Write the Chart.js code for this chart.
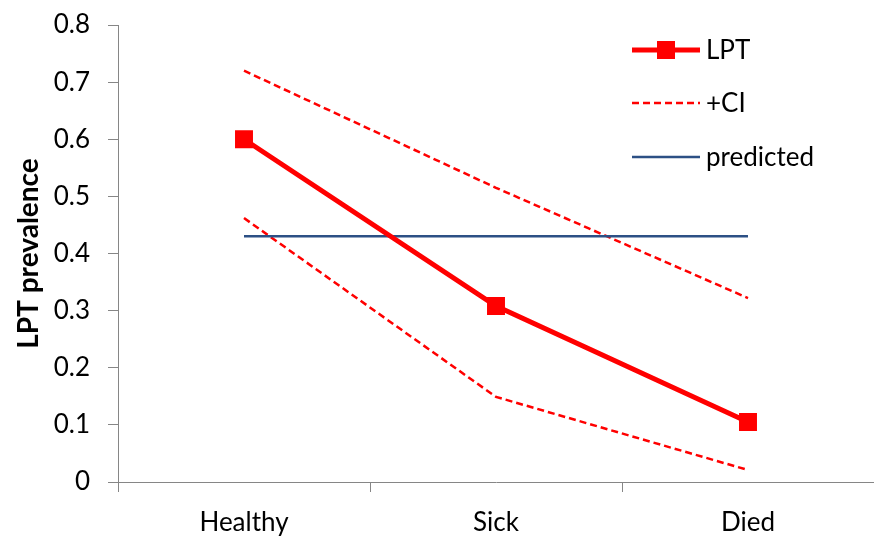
<!DOCTYPE html>
<html><head><meta charset="utf-8">
<script src="https://cdn.jsdelivr.net/npm/chart.js@4/dist/chart.umd.min.js"></script>
<style>html,body{margin:0;padding:0;background:#fff;overflow:hidden}canvas{display:block}</style>
</head><body><canvas id="c" width="874" height="539"></canvas>
<script>
const categories = ["Healthy", "Sick", "Died"];
const lptValues = [0.6, 0.308, 0.105];
const upperCI = [0.72, 0.515, 0.322];
const lowerCI = [0.462, 0.149, 0.021];
const predicted = [0.43, 0.43, 0.43];
const yTicks = [0, 0.1, 0.2, 0.3, 0.4, 0.5, 0.6, 0.7, 0.8];
const legendLabels = ["LPT", "+CI", "predicted"];

const FONT = "Lato, 'Liberation Sans', sans-serif";
const RED = "#FF0000";
const BLUE = "#2C5085";
const AXIS = "#868686";

const legendPlugin = {
  id: 'insideLegend',
  afterDraw(chart) {
    const ctx = chart.ctx;
    const rows = [
      {ds: 0, y: 50}, {ds: 1, y: 103}, {ds: 3, y: 157}
    ];
    ctx.save();
    rows.forEach((r, i) => {
      const d = chart.data.datasets[r.ds];
      ctx.strokeStyle = d.borderColor;
      ctx.lineWidth = d.borderWidth;
      ctx.setLineDash(d.borderDash || []);
      ctx.beginPath(); ctx.moveTo(632, r.y); ctx.lineTo(700, r.y); ctx.stroke();
      ctx.setLineDash([]);
      if (d.pointRadius > 0) {
        ctx.fillStyle = d.pointBackgroundColor;
        ctx.fillRect(666 - 9, r.y - 9, 18, 18);
      }
      ctx.fillStyle = "#000";
      ctx.font = "26px " + FONT;
      ctx.textBaseline = "middle";
      ctx.textAlign = "left";
      ctx.fillText(legendLabels[i], 706, r.y + 1);
    });
    ctx.restore();
  }
};

new Chart(document.getElementById('c'), {
  type: 'line',
  data: {
    labels: categories,
    datasets: [
      {label: legendLabels[0], data: lptValues, borderColor: RED, borderWidth: 5, pointStyle: 'rect', pointRadius: 12.7, pointBackgroundColor: RED, pointBorderWidth: 0, pointBorderColor: RED, order: 0},
      {label: legendLabels[1], data: upperCI, borderColor: RED, borderWidth: 2.5, borderDash: [7, 4], pointRadius: 0, order: 2},
      {label: "-CI", data: lowerCI, borderColor: RED, borderWidth: 2.5, borderDash: [7, 4], pointRadius: 0, order: 2},
      {label: legendLabels[2], data: predicted, borderColor: BLUE, borderWidth: 2.5, pointRadius: 0, order: 1}
    ]
  },
  options: {
    responsive: false, animation: false,
    layout: {autoPadding: false, padding: {top: 25, right: -3, bottom: 0, left: 1}},
    plugins: {legend: {display: false}, tooltip: {enabled: false}},
    scales: {
      x: {
        offset: true,
        afterFit(s) { s.paddingLeft = 0; s.paddingRight = 0; s.height = 57; },
        grid: {display: true, offset: true, drawOnChartArea: false, tickLength: 10, color: AXIS},
        border: {display: true, color: AXIS, width: 1},
        ticks: {font: {family: FONT, size: 26}, color: "#000", padding: 15, maxRotation: 0}
      },
      y: {
        min: 0, max: 0.8,
        afterBuildTicks(s) { s.ticks = yTicks.map(v => ({value: v})); },
        afterFit(s) { s.width = 117; s.paddingTop = 0; s.paddingBottom = 0; },
        grid: {display: true, drawOnChartArea: false, tickLength: 10, color: AXIS},
        border: {display: true, color: AXIS, width: 1},
        ticks: {font: {family: FONT, size: 26}, color: "#000", padding: 18, callback: v => String(Math.round(v * 10) / 10)},
        title: {display: true, text: "LPT prevalence", font: {family: FONT, size: 28, weight: 'bold'}, color: "#000", padding: {top: 11, bottom: 0}}
      }
    }
  },
  plugins: [legendPlugin]
});
</script>
</body></html>
